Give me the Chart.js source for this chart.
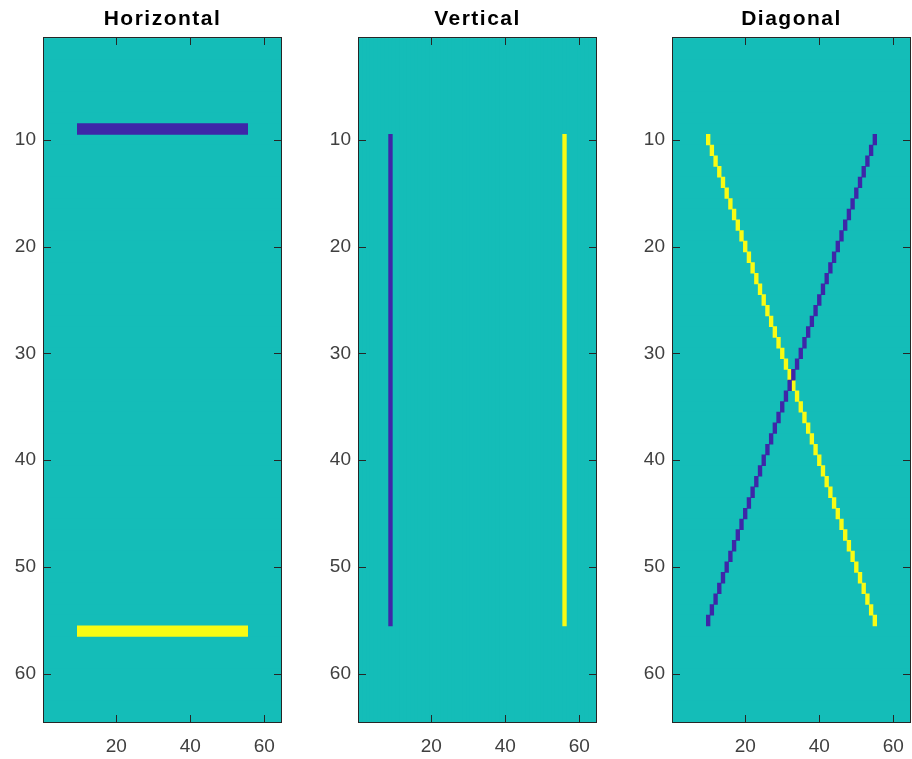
<!DOCTYPE html>
<html>
<head>
<meta charset="utf-8">
<script src="https://cdn.jsdelivr.net/npm/chart.js@4.4.1/dist/chart.umd.min.js"></script>
<style>
  html, body { margin: 0; padding: 0; background: #fff; overflow: hidden; }
  .panel { position: absolute; top: 0; width: 325px; height: 759px; }
</style>
</head>
<body>
<div class="panel" style="left:0px"><canvas id="horizontal"></canvas></div>
<div class="panel" style="left:315px"><canvas id="vertical"></canvas></div>
<div class="panel" style="left:629px"><canvas id="diagonal"></canvas></div>
<script>
// image is 64x64, value 0 everywhere except the lines (-1 = blue, +1 = yellow)
const imgSize = 64;
const gridIdx = [1, 2, 3, 4, 5, 6, 7, 8, 9, 10, 11, 12, 13, 14, 15, 16, 17, 18, 19, 20, 21, 22, 23, 24, 25, 26, 27, 28, 29, 30, 31, 32,
  33, 34, 35, 36, 37, 38, 39, 40, 41, 42, 43, 44, 45, 46, 47, 48, 49, 50, 51, 52, 53, 54, 55, 56, 57, 58, 59, 60, 61, 62, 63, 64];

const titles = ['Horizontal', 'Vertical', 'Diagonal'];
const xTicks = [20, 40, 60];
const yTicks = [10, 20, 30, 40, 50, 60];

// Horizontal: row 9 blue, row 56 yellow, columns 10..55
const horizRows = [9, 56];
const horizCols = [10, 55];

// Vertical: column 9 blue, column 56 yellow, rows 10..55
const vertCols = [9, 56];
const vertRows = [10, 55];

// Diagonal: one cell per row
const diagRows = [10, 11, 12, 13, 14, 15, 16, 17, 18, 19, 20, 21, 22, 23, 24, 25, 26, 27, 28, 29, 30, 31, 32,
  33, 34, 35, 36, 37, 38, 39, 40, 41, 42, 43, 44, 45, 46, 47, 48, 49, 50, 51, 52, 53, 54, 55];
const diagYellowCols = [10, 11, 12, 13, 14, 15, 16, 17, 18, 19, 20, 21, 22, 23, 24, 25, 26, 27, 28, 29, 30, 31, 32,
  33, 34, 35, 36, 37, 38, 39, 40, 41, 42, 43, 44, 45, 46, 47, 48, 49, 50, 51, 52, 53, 54, 55];
const diagBlueCols = [55, 54, 53, 52, 51, 50, 49, 48, 47, 46, 45, 44, 43, 42, 41, 40, 39, 38, 37, 36, 35, 34, 33,
  32, 31, 30, 29, 28, 27, 26, 25, 24, 23, 22, 21, 20, 19, 18, 17, 16, 15, 14, 13, 12, 11, 10];

// parula colours for -1, 0, +1
const blue = 'rgb(62,38,168)';
const teal = 'rgb(20,189,184)';
const yellow = 'rgb(249,251,20)';
const axisColor = '#262626';

Chart.defaults.font.family = "'Liberation Sans', Arial, Helvetica, sans-serif";
Chart.defaults.animation = false;

// teal background, box and inward ticks on all four sides (matlab style)
// title gets a little extra letter spacing, tick labels (drawn later, ticks.z = 1) none
const framePlugin = {
  id: 'frame',
  beforeDraw(chart) {
    chart.ctx.letterSpacing = '1.5px';
  },
  beforeDatasetsDraw(chart) {
    const { ctx, chartArea: a } = chart;
    ctx.letterSpacing = '0px';
    ctx.save();
    ctx.fillStyle = teal;
    ctx.fillRect(a.left, a.top, a.right - a.left, a.bottom - a.top);
    ctx.restore();
  },
  afterDatasetsDraw(chart) {
    const { ctx, chartArea: a, scales } = chart;
    const L = Math.round(a.left), R = Math.round(a.right);
    const T = Math.round(a.top), B = Math.round(a.bottom);
    const len = 7;
    ctx.save();
    ctx.strokeStyle = axisColor;
    ctx.lineWidth = 1;
    ctx.beginPath();
    scales.x.ticks.forEach(t => {
      const px = Math.round(scales.x.getPixelForValue(t.value)) + 0.5;
      ctx.moveTo(px, B); ctx.lineTo(px, B - len);
      ctx.moveTo(px, T); ctx.lineTo(px, T + len);
    });
    scales.y.ticks.forEach(t => {
      const py = Math.round(scales.y.getPixelForValue(t.value)) + 0.5;
      ctx.moveTo(L, py); ctx.lineTo(L + len, py);
      ctx.moveTo(R, py); ctx.lineTo(R - len, py);
    });
    ctx.stroke();
    ctx.strokeRect(L - 0.5, T - 0.5, R - L + 1, B - T + 1);
    ctx.restore();
    ctx.letterSpacing = '0px';
  }
};

function barSet(data, color, order) {
  return {
    data: data,
    backgroundColor: color,
    borderWidth: 0,
    barPercentage: 1,
    categoryPercentage: 1,
    grouped: false,
    order: order
  };
}

function makeChart(id, title, indexAxis, datasets) {
  const tickFont = { size: 19 };
  return new Chart(document.getElementById(id), {
    type: 'bar',
    data: { datasets: datasets },
    options: {
      indexAxis: indexAxis,
      responsive: true,
      maintainAspectRatio: false,
      layout: { padding: 0 },
      plugins: {
        legend: { display: false },
        tooltip: { enabled: false },
        title: {
          display: true,
          text: title,
          color: '#000',
          font: { size: 21, weight: 'bold' },
          padding: { top: 7, bottom: 6 }
        }
      },
      scales: {
        x: {
          type: 'linear',
          offset: false,
          min: 0.5,
          max: imgSize + 0.5,
          grid: { display: false, drawTicks: false, offset: false },
          border: { display: false },
          ticks: { z: 1, color: '#404040', font: tickFont, padding: 13, maxRotation: 0 },
          afterBuildTicks: s => { s.ticks = xTicks.map(v => ({ value: v })); },
          afterFit: s => { s.height = 37; }
        },
        y: {
          type: 'linear',
          offset: false,
          reverse: true,
          min: 0.5,
          max: imgSize + 0.5,
          grid: { display: false, drawTicks: false, offset: false },
          border: { display: false },
          ticks: { z: 1, color: '#404040', font: tickFont, padding: 8 },
          afterBuildTicks: s => { s.ticks = yTicks.map(v => ({ value: v })); },
          afterFit: s => { s.width = 44; }
        },
        // empty right axis so the title centres over the plot box
        yRight: {
          position: 'right',
          type: 'linear',
          grid: { display: false, drawTicks: false },
          border: { display: false },
          ticks: { display: false },
          afterFit: s => { s.width = 44; }
        }
      }
    },
    plugins: [framePlugin]
  });
}

// background rows / columns (value 0)
const bgRows = gridIdx.map(r => ({ y: r, x: [0.5, imgSize + 0.5] }));
const bgCols = gridIdx.map(c => ({ x: c, y: [0.5, imgSize + 0.5] }));

// Horizontal
makeChart('horizontal', titles[0], 'y', [
  barSet([{ y: horizRows[0], x: [horizCols[0] - 0.5, horizCols[1] + 0.5] }], blue, 1),
  barSet([{ y: horizRows[1], x: [horizCols[0] - 0.5, horizCols[1] + 0.5] }], yellow, 1),
  barSet(bgRows, teal, 2)
]);

// Vertical
makeChart('vertical', titles[1], 'x', [
  barSet([{ x: vertCols[0], y: [vertRows[0] - 0.5, vertRows[1] + 0.5] }], blue, 1),
  barSet([{ x: vertCols[1], y: [vertRows[0] - 0.5, vertRows[1] + 0.5] }], yellow, 1),
  barSet(bgCols, teal, 2)
]);

// Diagonal
makeChart('diagonal', titles[2], 'y', [
  barSet(diagRows.map((r, i) => ({ y: r, x: [diagBlueCols[i] - 0.5, diagBlueCols[i] + 0.5] })), blue, 1),
  barSet(diagRows.map((r, i) => ({ y: r, x: [diagYellowCols[i] - 0.5, diagYellowCols[i] + 0.5] })), yellow, 1),
  barSet(bgRows, teal, 2)
]);
</script>
</body>
</html>
